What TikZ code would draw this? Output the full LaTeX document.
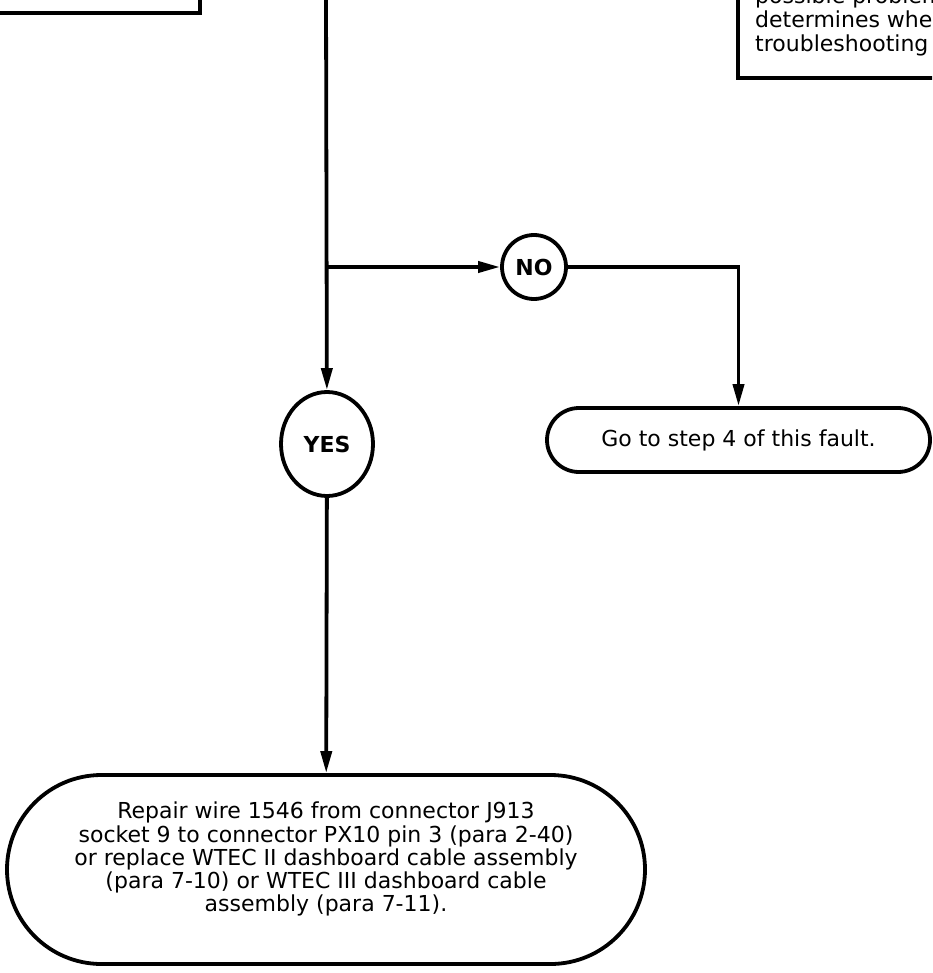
\documentclass[tikz,border=0pt]{standalone}
\usepackage{fontspec}
\setmainfont{DejaVu Sans}
\usetikzlibrary{arrows.meta,shapes.misc,shapes.geometric}
\begin{document}
\begin{tikzpicture}[x=1pt,y=-1pt,
  line/.style={line width=3.8pt},
  arr/.style={line width=3.8pt,-{Triangle[length=22pt,width=11pt]}},
  body/.style={font=\fontsize{22}{23.3}\selectfont},
  term/.style={rounded rectangle, draw, line width=3.8pt, align=center, body, inner sep=0pt},
  answer/.style={draw, line width=3.8pt, font=\bfseries\fontsize{22}{24}\selectfont, inner sep=0pt},
]
\useasboundingbox (0,0) rectangle (932,973);
\clip (0,0) rectangle (932,973);
% partially visible boxes at the top
\draw[line] (-20,-40) rectangle (200,13);
\draw[line] (738,-40) rectangle (980,78);
\node[body, anchor=base west, inner sep=0pt] (tr1) at (755,4) {possible problem};
\node[body, anchor=base west, inner sep=0pt] (tr2) at (755,27.5) {determines when};
\node[body, anchor=base west, inner sep=0pt] (tr3) at (755,51.5) {troubleshooting};
% decision answers
\node[answer, circle, minimum size=64pt] (no) at (534,267) {NO};
\node[answer, ellipse, minimum width=92pt, minimum height=104pt] (yes) at (327,444) {YES};
% terminals
\node[term, minimum width=383pt, minimum height=64pt] (goto) at (738.5,440) {Go to step 4 of this fault.};
\node[term, minimum width=638pt, minimum height=189pt, text depth=25pt] (repair) at (326,869.5)
  {Repair wire 1546 from connector J913\\socket 9 to connector PX10 pin 3 (para 2-40)\\or replace WTEC II dashboard cable assembly\\(para 7-10) or WTEC III dashboard cable\\assembly (para 7-11).};
% connectors
\coordinate (top) at (326,-5);
\coordinate (branch) at (326,267);
\draw[arr] (top) -- (yes);
\draw[arr] (branch) -- (no);
\draw[arr] (no) -| (goto);
\draw[arr] (yes) -- (repair);
\end{tikzpicture}
\end{document}
